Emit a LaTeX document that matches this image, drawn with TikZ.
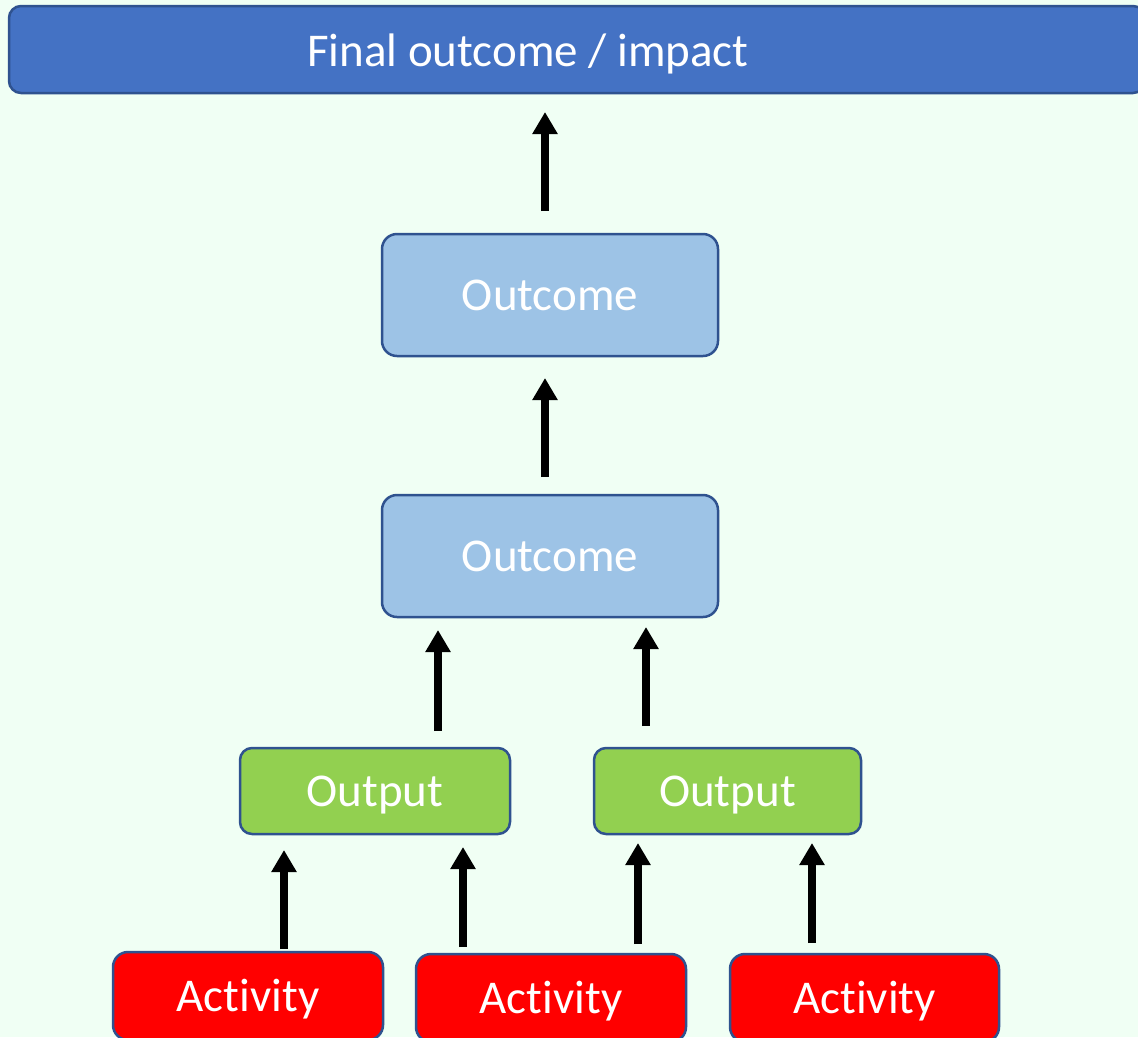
\documentclass[tikz,border=0pt]{standalone}
\usepackage{fontspec}
\setmainfont{Carlito}[Ligatures=NoCommon]
\usetikzlibrary{arrows.meta}
\definecolor{bgc}{HTML}{F0FFF4}
\definecolor{barc}{HTML}{4472C4}
\definecolor{edgec}{HTML}{2F528F}
\definecolor{outcomec}{HTML}{9DC3E6}
\definecolor{outputc}{HTML}{92D050}
\definecolor{activityc}{HTML}{FF0000}
\tikzset{
  lbl/.style={text=white, font=\fontsize{47}{50}\selectfont, text height=30pt, text depth=0pt},
  box/.style={lbl, draw=edgec, line width=2.5pt, rounded corners=15pt, inner sep=0pt},
  uparrow/.style={line width=8pt, -{Triangle[width=24pt,length=22pt]}}
}
\begin{document}
\begin{tikzpicture}[x=1pt,y=-1pt]
\useasboundingbox (0,0) rectangle (1138,1037);
\clip (0,0) rectangle (1138,1037);
\fill[bgc] (0,0) rectangle (1138,1037);
% top bar
\node[box, fill=barc, rounded corners=12pt, minimum width=1136pt, minimum height=87pt] (finalbar) at (577,49.5) {};
\node[lbl, inner sep=0pt] (final) at (528,51) {Final outcome / impact};
% outcomes
\node[box, fill=outcomec, minimum width=336pt, minimum height=122pt] (oc1) at (550,295) {Outcome};
\node[box, fill=outcomec, minimum width=336pt, minimum height=122pt] (oc2) at (550,556) {Outcome};
% outputs
\node[box, fill=outputc, rounded corners=12pt, minimum width=270pt, minimum height=86pt] (op1) at (375,791) {Output};
\node[box, fill=outputc, rounded corners=12pt, minimum width=267pt, minimum height=86pt] (op2) at (727.5,791) {Output};
% activities
\node[box, fill=activityc, minimum width=270pt, minimum height=88pt] (ac1) at (248,996) {Activity};
\node[box, fill=activityc, minimum width=270pt, minimum height=88pt] (ac2) at (551,998) {Activity};
\node[box, fill=activityc, minimum width=269pt, minimum height=88pt] (ac3) at (864.5,998) {Activity};
% arrow end points
\coordinate (a1s) at (545,211); \coordinate (a1e) at (545,112);
\coordinate (a2s) at (545,477); \coordinate (a2e) at (545,378);
\coordinate (a3s) at (438,731); \coordinate (a3e) at (438,630);
\coordinate (a4s) at (646,726); \coordinate (a4e) at (646,627);
\coordinate (a5s) at (284,949); \coordinate (a5e) at (284,850);
\coordinate (a6s) at (463,947); \coordinate (a6e) at (463,847);
\coordinate (a7s) at (638,944); \coordinate (a7e) at (638,843);
\coordinate (a8s) at (812,943); \coordinate (a8e) at (812,843);
\draw[uparrow] (a1s) -- (a1e);
\draw[uparrow] (a2s) -- (a2e);
\draw[uparrow] (a3s) -- (a3e);
\draw[uparrow] (a4s) -- (a4e);
\draw[uparrow] (a5s) -- (a5e);
\draw[uparrow] (a6s) -- (a6e);
\draw[uparrow] (a7s) -- (a7e);
\draw[uparrow] (a8s) -- (a8e);
\end{tikzpicture}
\end{document}
